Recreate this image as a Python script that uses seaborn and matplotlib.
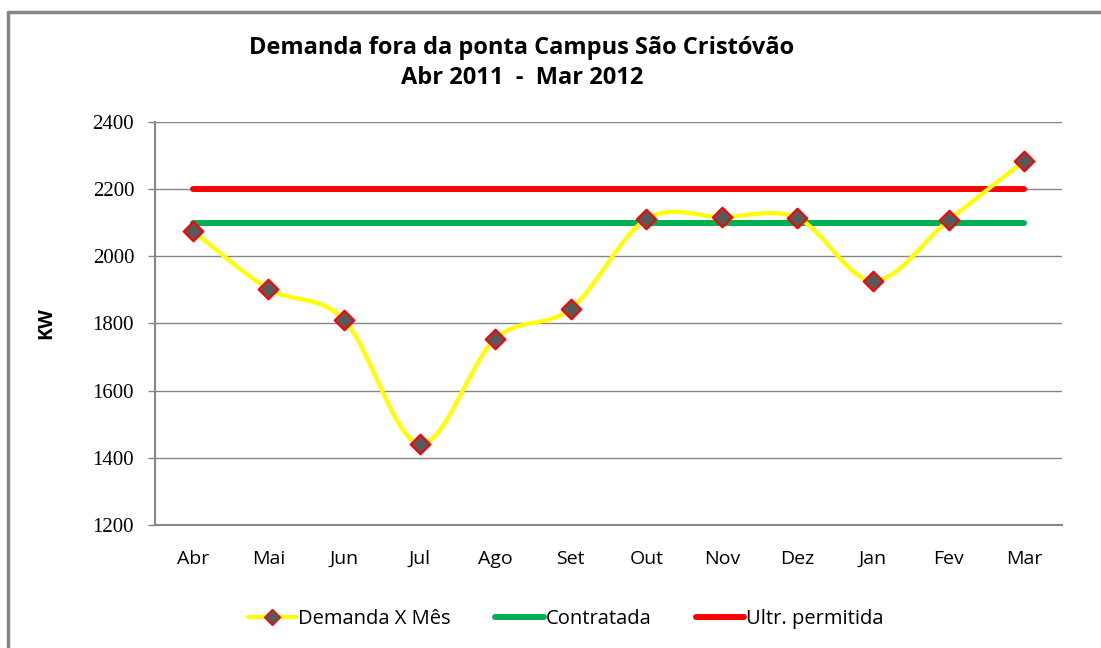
import matplotlib
matplotlib.use("Agg")
import matplotlib.pyplot as plt
import seaborn as sns
import pandas as pd
from matplotlib.path import Path
from matplotlib.patches import PathPatch
from matplotlib.lines import Line2D

months = ["Abr", "Mai", "Jun", "Jul", "Ago", "Set", "Out", "Nov", "Dez", "Jan", "Fev", "Mar"]
demanda = [2076, 1903, 1811, 1442, 1754, 1844, 2111, 2117, 2114, 1927, 2108, 2284]
contratada = [2100] * 12
permitida = [2200] * 12

df = pd.DataFrame({"pos": range(len(months)), "mes": months, "demanda": demanda,
                   "contratada": contratada, "permitida": permitida})

sns.set_style("white")
plt.rcParams["font.family"] = ["Open Sans", "DejaVu Sans"]
plt.rcParams["text.color"] = "black"
plt.rcParams["axes.labelcolor"] = "black"
plt.rcParams["xtick.color"] = "black"
plt.rcParams["ytick.color"] = "black"

fig = plt.figure(figsize=(11.01, 6.48), dpi=100)
ax = fig.add_axes([155 / 1101, 1 - 525 / 648, (1062 - 155) / 1101, (525 - 122) / 648])

# horizontal reference lines
sns.lineplot(data=df, x="pos", y="permitida", color="#FF0000", lw=4.3, ax=ax,
             solid_capstyle="round", label="Ultr. permitida", zorder=3)
sns.lineplot(data=df, x="pos", y="contratada", color="#00B050", lw=4.3, ax=ax,
             solid_capstyle="round", label="Contratada", zorder=3)

# smoothed demand curve (Excel-style Catmull-Rom bezier)
xs = list(df["pos"])
ys = list(df["demanda"])
verts = [(xs[0], ys[0])]
codes = [Path.MOVETO]
n = len(xs)
for i in range(n - 1):
    p0 = (xs[max(i - 1, 0)], ys[max(i - 1, 0)])
    p1 = (xs[i], ys[i])
    p2 = (xs[i + 1], ys[i + 1])
    p3 = (xs[min(i + 2, n - 1)], ys[min(i + 2, n - 1)])
    c1 = (p1[0] + (p2[0] - p0[0]) / 6, p1[1] + (p2[1] - p0[1]) / 6)
    c2 = (p2[0] - (p3[0] - p1[0]) / 6, p2[1] - (p3[1] - p1[1]) / 6)
    verts += [c1, c2, p2]
    codes += [Path.CURVE4] * 3
ax.add_patch(PathPatch(Path(verts, codes), fill=False, edgecolor="#FFFF00", lw=3, zorder=4))
sns.scatterplot(data=df, x="pos", y="demanda", marker="D", s=100, color="#595959",
                edgecolor="#FF0000", linewidth=1.5, ax=ax, zorder=5)

ax.set_xlim(-0.5, 11.5)
ax.set_ylim(1200, 2400)
ax.set_yticks(range(1200, 2401, 200))
ax.set_xticks(df["pos"])
ax.set_xticklabels(months, fontsize=14)
for t in ax.get_yticklabels():
    t.set_fontfamily(["Liberation Serif", "DejaVu Serif"])
    t.set_fontsize(15)
ax.tick_params(axis="y", length=5, width=1, color="#868686", pad=10, left=True)
ax.tick_params(axis="x", length=0, pad=18)
ax.yaxis.grid(True, color="#868686", lw=1)
for s in ["top", "right"]:
    ax.spines[s].set_visible(False)
for s in ["left", "bottom"]:
    ax.spines[s].set_color("#868686")
    ax.spines[s].set_linewidth(1.5)
ax.set_xlabel("")
ax.set_ylabel("KW", fontsize=14, fontweight="bold", labelpad=26)

fig.text(0.474, 0.903, "Demanda fora da ponta Campus São Cristóvão\nAbr 2011  -  Mar 2012",
         ha="center", va="center", fontsize=17, fontweight="bold", linespacing=1.3)

handles = [
    Line2D([], [], color="#FFFF00", lw=3, marker="D", markersize=8,
           markerfacecolor="#595959", markeredgecolor="#FF0000"),
    Line2D([], [], color="#00B050", lw=4.3, solid_capstyle="round"),
    Line2D([], [], color="#FF0000", lw=4.3, solid_capstyle="round"),
]
ax.legend(handles, ["Demanda X Mês", "Contratada", "Ultr. permitida"],
          loc="center", bbox_to_anchor=(0.453, -0.233), ncol=3, frameon=False,
          fontsize=14.5, handlelength=2.4, handletextpad=0.1, columnspacing=2.2)

# outer chart border
fig.add_artist(Line2D([8 / 1101, 8 / 1101], [0, 1 - 12 / 648], transform=fig.transFigure,
                      color="#868686", lw=2.5))
fig.add_artist(Line2D([8 / 1101, 1], [1 - 12 / 648, 1 - 12 / 648], transform=fig.transFigure,
                      color="#868686", lw=2.5))

fig.savefig("out.png", dpi=100)
